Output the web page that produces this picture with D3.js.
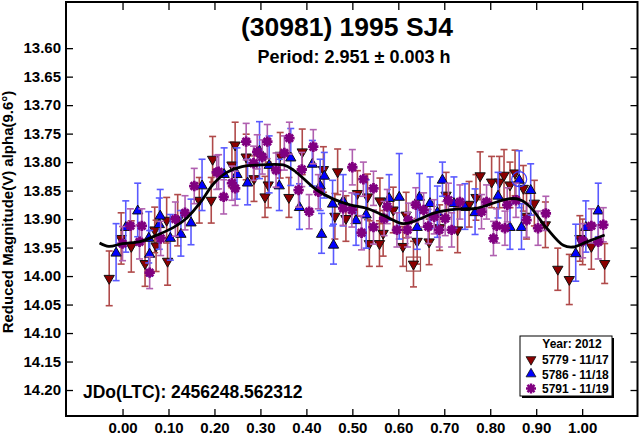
<!DOCTYPE html>
<html>
<head>
<meta charset="utf-8">
<script src="https://cdn.jsdelivr.net/npm/d3@7"></script>
<style>
  body { margin: 0; background: #fff; }
  svg { display: block; font-family: "Liberation Sans", Arial, sans-serif; }
  .axis text { font-size: 15px; font-weight: bold; fill: #000; }
  .axis line { stroke: #000; stroke-width: 1.3; }
</style>
</head>
<body>
<div id="graph"></div>
<script>
// phase, reduced magnitude, error
var run5779 = [
  [-0.029, 14.004, 0.048], [-0.003, 13.934, 0.045], [0.019, 13.948, 0.045], [0.049, 13.978, 0.040],
  [0.070, 13.919, 0.040], [0.073, 13.947, 0.045], [0.096, 13.902, 0.040], [0.098, 13.974, 0.042],
  [0.120, 13.902, 0.045], [0.167, 13.867, 0.040], [0.193, 13.867, 0.040], [0.196, 13.795, 0.040],
  [0.238, 13.805, 0.040], [0.245, 13.770, 0.040], [0.269, 13.791, 0.040], [0.286, 13.829, 0.040],
  [0.310, 13.861, 0.036], [0.317, 13.840, 0.040], [0.343, 13.788, 0.040], [0.362, 13.862, 0.035],
  [0.391, 13.782, 0.040], [0.437, 13.813, 0.040], [0.462, 13.895, 0.040], [0.468, 13.817, 0.040],
  [0.486, 13.899, 0.040], [0.511, 13.855, 0.040], [0.533, 13.861, 0.040], [0.537, 13.943, 0.040],
  [0.559, 13.943, 0.040], [0.560, 13.868, 0.040], [0.567, 13.925, 0.040], [0.589, 13.884, 0.040],
  [0.610, 13.948, 0.035], [0.617, 13.893, 0.040], [0.633, 13.979, 0.040], [0.641, 13.939, 0.040],
  [0.667, 13.940, 0.040], [0.690, 13.915, 0.040], [0.704, 13.858, 0.040], [0.729, 13.919, 0.040],
  [0.754, 13.874, 0.040], [0.769, 13.862, 0.040], [0.778, 13.824, 0.042], [0.803, 13.835, 0.045],
  [0.820, 13.835, 0.045], [0.830, 13.823, 0.045], [0.843, 13.840, 0.040], [0.854, 13.819, 0.040],
  [0.872, 13.846, 0.040], [0.879, 13.895, 0.040], [0.896, 13.872, 0.040], [0.920, 13.910, 0.040],
  [0.947, 13.988, 0.037], [0.972, 14.006, 0.044], [0.995, 13.934, 0.040], [1.001, 13.940, 0.040],
  [1.020, 13.948, 0.040], [1.049, 13.978, 0.035]
];
var run5786 = [
  [-0.014, 13.958, 0.050], [0.007, 13.913, 0.045], [0.033, 13.884, 0.047], [0.057, 13.932, 0.045],
  [0.059, 13.960, 0.040], [0.080, 13.908, 0.045], [0.082, 13.893, 0.045], [0.104, 13.932, 0.040],
  [0.127, 13.925, 0.040], [0.149, 13.905, 0.040], [0.173, 13.840, 0.045], [0.221, 13.820, 0.045],
  [0.249, 13.820, 0.045], [0.272, 13.835, 0.040], [0.298, 13.779, 0.050], [0.319, 13.804, 0.050],
  [0.341, 13.840, 0.045], [0.366, 13.791, 0.050], [0.385, 13.878, 0.040], [0.413, 13.802, 0.040],
  [0.430, 13.840, 0.045], [0.439, 13.823, 0.040], [0.433, 13.925, 0.035], [0.457, 13.872, 0.040],
  [0.459, 13.944, 0.035], [0.480, 13.867, 0.045], [0.508, 13.901, 0.045], [0.530, 13.891, 0.060],
  [0.580, 13.862, 0.040], [0.602, 13.860, 0.075], [0.641, 13.913, 0.040], [0.646, 13.860, 0.040],
  [0.669, 13.871, 0.045], [0.685, 13.887, 0.045], [0.696, 13.830, 0.030], [0.721, 13.871, 0.045],
  [0.745, 13.878, 0.040], [0.767, 13.887, 0.040], [0.817, 13.858, 0.040], [0.843, 13.913, 0.040],
  [0.863, 13.830, 0.050], [0.868, 13.913, 0.040], [0.888, 13.848, 0.045], [0.986, 13.959, 0.050],
  [1.008, 13.913, 0.045], [1.035, 13.884, 0.047]
];
var run5791 = [
  [0.000, 13.943, 0.030], [0.017, 13.912, 0.030], [0.037, 13.940, 0.030], [0.042, 13.912, 0.030],
  [0.059, 13.994, 0.028], [0.083, 13.934, 0.030], [0.115, 13.900, 0.030], [0.136, 13.889, 0.030],
  [0.156, 13.842, 0.031], [0.205, 13.818, 0.030], [0.209, 13.817, 0.030], [0.220, 13.861, 0.030],
  [0.238, 13.837, 0.030], [0.245, 13.846, 0.030], [0.269, 13.764, 0.032], [0.285, 13.802, 0.030],
  [0.293, 13.782, 0.030], [0.304, 13.791, 0.030], [0.315, 13.764, 0.030], [0.334, 13.814, 0.030],
  [0.352, 13.784, 0.030], [0.363, 13.758, 0.028], [0.383, 13.849, 0.030], [0.390, 13.813, 0.030],
  [0.406, 13.887, 0.030], [0.415, 13.773, 0.030], [0.426, 13.852, 0.030], [0.480, 13.881, 0.030],
  [0.499, 13.884, 0.030], [0.500, 13.809, 0.031], [0.520, 13.924, 0.030], [0.524, 13.830, 0.030],
  [0.546, 13.846, 0.030], [0.546, 13.914, 0.030], [0.569, 13.899, 0.030], [0.576, 13.878, 0.030],
  [0.597, 13.919, 0.030], [0.620, 13.919, 0.030], [0.622, 13.902, 0.030], [0.638, 13.875, 0.030],
  [0.655, 13.884, 0.030], [0.665, 13.913, 0.030], [0.678, 13.896, 0.030], [0.689, 13.919, 0.030],
  [0.702, 13.899, 0.030], [0.709, 13.867, 0.030], [0.716, 13.919, 0.030], [0.734, 13.870, 0.030],
  [0.781, 13.887, 0.030], [0.792, 13.870, 0.030], [0.807, 13.934, 0.030], [0.814, 13.912, 0.030],
  [0.832, 13.916, 0.030], [0.837, 13.875, 0.030], [0.856, 13.867, 0.030], [0.879, 13.902, 0.030],
  [0.904, 13.916, 0.030], [0.921, 13.890, 0.030], [1.001, 13.938, 0.030], [1.020, 13.912, 0.030],
  [1.035, 13.940, 0.030], [1.046, 13.910, 0.030]
];
// fourier fit curve
var fitCurve = [
  [-0.050, 13.942], [-0.030, 13.948], [0.000, 13.943], [0.040, 13.939], [0.075, 13.928],
  [0.110, 13.915], [0.140, 13.898], [0.170, 13.870], [0.198, 13.838], [0.227, 13.818],
  [0.260, 13.808], [0.300, 13.805], [0.350, 13.805], [0.372, 13.814], [0.4225, 13.849],
  [0.459, 13.865], [0.495, 13.875], [0.531, 13.881], [0.567, 13.893], [0.611, 13.908],
  [0.640, 13.902], [0.676, 13.890], [0.712, 13.884], [0.741, 13.882], [0.770, 13.881],
  [0.814, 13.870], [0.843, 13.864], [0.865, 13.866], [0.886, 13.878], [0.923, 13.916],
  [0.959, 13.946], [0.980, 13.949], [1.010, 13.940], [1.049, 13.928]
];
var boxedPoint = [[0.633, 13.979]];
var circledPoint = [[0.863, 13.830]];

var xTicks = [0, 0.1, 0.2, 0.3, 0.4, 0.5, 0.6, 0.7, 0.8, 0.9, 1.0];
var yTicks = [13.60, 13.65, 13.70, 13.75, 13.80, 13.85, 13.90, 13.95, 14.00, 14.05, 14.10, 14.15, 14.20];

var legendItems = [
  {label: "5779 - 11/17", kind: "down"},
  {label: "5786 - 11/18", kind: "up"},
  {label: "5791 - 11/19", kind: "star"}
];

var W = 640, H = 434;
var margin = {top: 2, right: 2.5, bottom: 18, left: 66};

var svg = d3.select("#graph").append("svg")
    .attr("width", W)
    .attr("height", H);

var x = d3.scaleLinear().domain([-0.123, 1.1204]).range([margin.left, W - margin.right]);
var y = d3.scaleLinear().domain([13.519, 14.2456]).range([margin.top, H - margin.bottom]);

var styles = {
  down: {fill: "#8b0000", bar: "#b04a4a"},
  up:   {fill: "#0000ff", bar: "#5a5aff"},
  star: {fill: "#800080", bar: "#b060b0"}
};

// axes, ticks pointing into the plot
var fmt = d3.format(".2f");
svg.append("g").attr("class", "axis")
    .attr("transform", "translate(0," + y.range()[1] + ")")
    .call(d3.axisBottom(x).tickValues(xTicks).tickFormat(fmt).tickSize(-7).tickPadding(6))
    .select(".domain").remove();
svg.append("g").attr("class", "axis")
    .attr("transform", "translate(0," + y.range()[0] + ")")
    .call(d3.axisTop(x).tickValues(xTicks).tickFormat("").tickSize(-8))
    .select(".domain").remove();
svg.append("g").attr("class", "axis")
    .attr("transform", "translate(" + x.range()[0] + ",0)")
    .call(d3.axisLeft(y).tickValues(yTicks).tickFormat(fmt).tickSize(-7).tickPadding(5))
    .select(".domain").remove();
svg.append("g").attr("class", "axis")
    .attr("transform", "translate(" + x.range()[1] + ",0)")
    .call(d3.axisRight(y).tickValues(yTicks).tickFormat("").tickSize(-7))
    .select(".domain").remove();

// error bars + markers
var starPath = function(r) {
  var d = "", k = r * 0.7071;
  d += "M" + (-r) + ",0L" + r + ",0";
  d += "M0," + (-r) + "L0," + r;
  d += "M" + (-k) + "," + (-k) + "L" + k + "," + k;
  d += "M" + (-k) + "," + k + "L" + k + "," + (-k);
  return d;
};
var tri = d3.symbol().type(d3.symbolTriangle).size(46);

function drawSeries(data, kind) {
  var st = styles[kind];
  var g = svg.append("g");
  var bars = g.selectAll(".eb").data(data).enter().append("g")
      .attr("stroke", st.bar).attr("stroke-width", 1.6);
  bars.append("line")
      .attr("x1", function(d) { return x(d[0]); })
      .attr("x2", function(d) { return x(d[0]); })
      .attr("y1", function(d) { return y(d[1] - d[2]); })
      .attr("y2", function(d) { return y(d[1] + d[2]); });
  [-1, 1].forEach(function(s) {
    bars.append("line")
        .attr("x1", function(d) { return x(d[0]) - 3.5; })
        .attr("x2", function(d) { return x(d[0]) + 3.5; })
        .attr("y1", function(d) { return y(d[1] + s * d[2]); })
        .attr("y2", function(d) { return y(d[1] + s * d[2]); });
  });
  var m = g.selectAll(".mk").data(data).enter();
  if (kind === "star") {
    m.append("path")
        .attr("d", starPath(5.2))
        .attr("transform", function(d) { return "translate(" + x(d[0]) + "," + y(d[1]) + ")"; })
        .attr("stroke", st.fill).attr("stroke-width", 2.8).attr("fill", "none");
  } else {
    m.append("path")
        .attr("d", tri)
        .attr("transform", function(d) {
          var t = "translate(" + x(d[0]) + "," + y(d[1]) + ")";
          return kind === "down" ? t + " rotate(180)" : t + " translate(0,1)";
        })
        .attr("fill", st.fill).attr("stroke", "#111").attr("stroke-width", 1);
  }
}
drawSeries(run5779, "down");
drawSeries(run5786, "up");
drawSeries(run5791, "star");

// flagged points
svg.selectAll(".box").data(boxedPoint).enter().append("rect")
    .attr("x", function(d) { return x(d[0]) - 7; })
    .attr("y", function(d) { return y(d[1]) - 7; })
    .attr("width", 14).attr("height", 14)
    .attr("fill", "none").attr("stroke", "#a04a4a").attr("stroke-width", 1.2);
svg.selectAll(".circ").data(circledPoint).enter().append("circle")
    .attr("cx", function(d) { return x(d[0]); })
    .attr("cy", function(d) { return y(d[1]); })
    .attr("r", 7.5)
    .attr("fill", "none").attr("stroke", "#3a3aff").attr("stroke-width", 1.2);

// fit
svg.append("path")
    .datum(fitCurve)
    .attr("fill", "none").attr("stroke", "#000").attr("stroke-width", 2.8)
    .attr("d", d3.line()
        .x(function(d) { return x(d[0]); })
        .y(function(d) { return y(d[1]); })
        .curve(d3.curveCatmullRom));

// frame
svg.append("rect")
    .attr("x", x.range()[0]).attr("y", y.range()[0])
    .attr("width", x.range()[1] - x.range()[0])
    .attr("height", y.range()[1] - y.range()[0])
    .attr("fill", "none").attr("stroke", "#000").attr("stroke-width", 2);

// texts
svg.append("text").attr("x", 347).attr("y", 36)
    .attr("text-anchor", "middle").attr("font-size", 26.5).attr("font-weight", "bold")
    .text("(30981) 1995 SJ4");
svg.append("text").attr("x", 354).attr("y", 62.5)
    .attr("text-anchor", "middle").attr("font-size", 18).attr("font-weight", "bold")
    .text("Period: 2.951 \u00b1 0.003 h");
svg.append("text").attr("x", 83).attr("y", 397.5)
    .attr("font-size", 17.5).attr("font-weight", "bold")
    .text("JDo(LTC): 2456248.562312");
svg.append("text")
    .attr("transform", "translate(13,212) rotate(-90)")
    .attr("text-anchor", "middle").attr("font-size", 15).attr("font-weight", "bold")
    .text("Reduced Magnitude(V) alpha(9.6\u00b0)");

// legend
var lg = svg.append("g").attr("transform", "translate(520,336)");
lg.append("rect").attr("x", 2).attr("y", 2).attr("width", 92).attr("height", 60).attr("fill", "#000");
lg.append("rect").attr("width", 92).attr("height", 60)
    .attr("fill", "#fff").attr("stroke", "#000").attr("stroke-width", 1);
lg.append("text").attr("x", 52).attr("y", 12)
    .attr("text-anchor", "middle").attr("font-size", 12).attr("font-weight", "bold")
    .text("Year: 2012");
var rows = lg.selectAll(".row").data(legendItems).enter().append("g")
    .attr("transform", function(d, i) { return "translate(0," + (23.5 + i * 14.5) + ")"; });
rows.append("path")
    .attr("d", function(d) { return d.kind === "star" ? starPath(5) : d3.symbol().type(d3.symbolTriangle).size(42)(); })
    .attr("transform", function(d) { return "translate(11,0)" + (d.kind === "down" ? " rotate(180)" : ""); })
    .attr("fill", function(d) { return d.kind === "star" ? "none" : styles[d.kind].fill; })
    .attr("stroke", function(d) { return d.kind === "star" ? styles.star.fill : "#111"; })
    .attr("stroke-width", function(d) { return d.kind === "star" ? 2.5 : 0.8; });
rows.append("text").attr("x", 22).attr("y", 4.5)
    .attr("font-size", 12).attr("font-weight", "bold")
    .text(function(d) { return d.label; });
</script>
</body>
</html>
